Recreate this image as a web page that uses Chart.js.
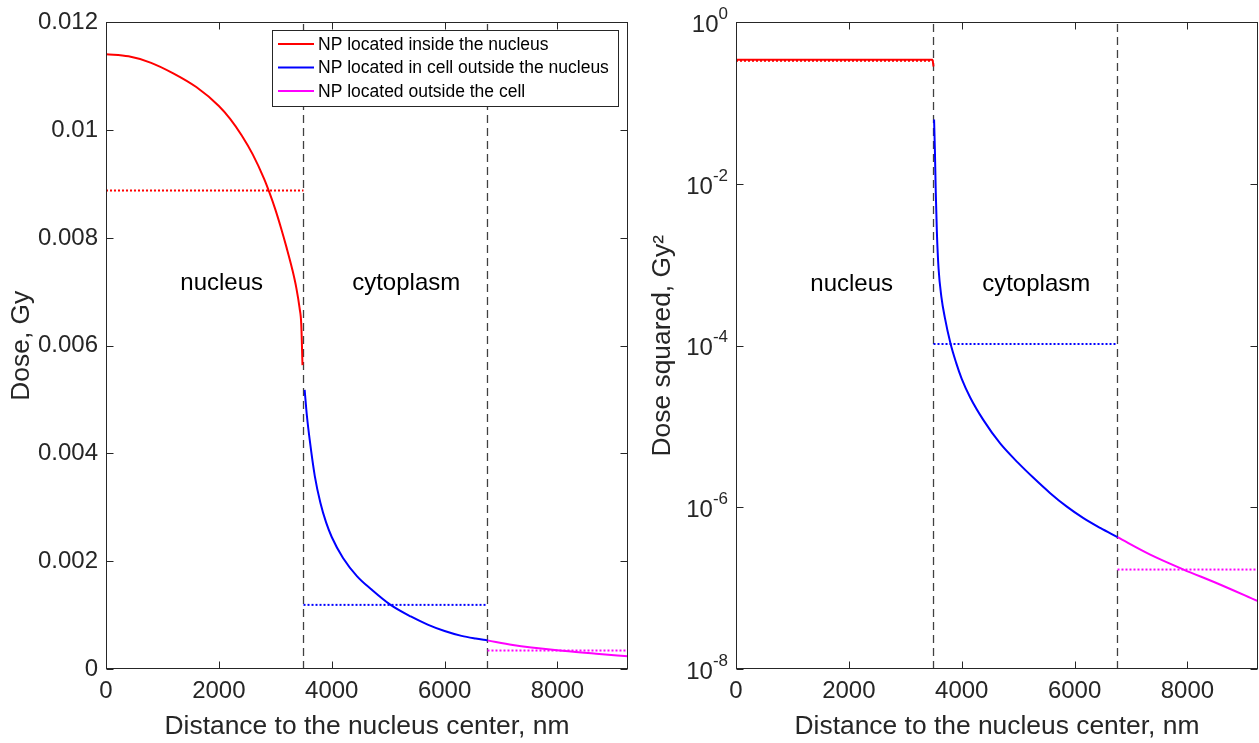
<!DOCTYPE html>
<html>
<head>
<meta charset="utf-8">
<script src="https://cdn.jsdelivr.net/npm/chart.js@4.4.1/dist/chart.umd.min.js"></script>
<style>
  html, body { margin: 0; padding: 0; background: #fff; }
  #doseChart { position: absolute; left: 0; top: 0; }
  #doseSqChart { position: absolute; left: 630px; top: 0; }
</style>
</head>
<body>
<canvas id="doseChart" width="630" height="743"></canvas>
<canvas id="doseSqChart" width="629" height="743"></canvas>
<script>
// 공통 값 (거리, nm)
const boundaries = [3500, 6760];
const xMax = 9250;
const xTicks = [0, 2000, 4000, 6000, 8000];
const seriesLabels = ['NP located inside the nucleus', 'NP located in cell outside the nucleus', 'NP located outside the cell'];
const seriesColors = ['#ff0000', '#0000ff', '#ff00ff'];
const regionNames = ['nucleus', 'cytoplasm'];
const regionX = [2050, 5320];

// 왼쪽 차트: 선량 (Gy)
const doseInsideX = [0, 400, 800, 1200, 1600, 2000, 2200, 2400, 2600, 2800, 2900, 3000, 3100, 3200, 3300, 3375, 3430, 3460, 3482];
const doseInsideY = [0.01141, 0.01137, 0.01125, 0.01105, 0.0108, 0.01045, 0.01021, 0.00991, 0.00955, 0.0091, 0.00883, 0.00853, 0.00819, 0.00782, 0.00742, 0.00706, 0.0067, 0.0064, 0.00564];
const doseCellX = [3520, 3560, 3610, 3700, 3800, 3900, 4000, 4200, 4450, 4700, 5030, 5400, 5700, 6000, 6300, 6550, 6760];
const doseCellY = [0.00518, 0.0047, 0.00425, 0.00358, 0.00308, 0.00272, 0.00245, 0.00206, 0.00172, 0.00148, 0.0012, 0.000975, 0.000825, 0.000705, 0.000615, 0.000565, 0.000531];
const doseOutX = [6760, 7209, 7995, 8685, 9250];
const doseOutY = [0.000531, 0.000444, 0.000346, 0.000284, 0.000235];
const doseMeans = [0.00888, 0.00119, 0.000343];
const doseTicks = [0, 0.002, 0.004, 0.006, 0.008, 0.01, 0.012];

// 오른쪽 차트: 선량 제곱 (Gy^2)
const sqInsideX = [0, 3480, 3500];
const sqInsideY = [0.346, 0.346, 0.285];
const sqCellX = [3510, 3525, 3540, 3560, 3590, 3640, 3700, 3800, 3900, 4000, 4150, 4385, 4681, 5000, 5271, 5563, 5863, 6150, 6454, 6760];
const sqCellY = [6.3e-2, 2.5e-2, 7.9e-3, 2.5e-3, 8.9e-4, 4.0e-4, 2.24e-4, 1.07e-4, 6.17e-5, 3.89e-5, 2.29e-5, 1.2e-5, 6.17e-6, 3.55e-6, 2.32e-6, 1.51e-6, 1.02e-6, 7.41e-7, 5.56e-7, 4.27e-7];
const sqOutX = [6760, 7340, 7931, 8523, 9250];
const sqOutY = [4.27e-7, 2.6e-7, 1.7e-7, 1.15e-7, 6.9e-8];
const sqMeans = [0.335, 1.05e-4, 1.7e-7];
const sqTicks = [1e-8, 1e-6, 1e-4, 1e-2, 1];

const FONT = '"Liberation Sans", Arial, sans-serif';
const TEXT = '#262626';
Chart.defaults.font.family = FONT;
Chart.defaults.color = TEXT;

function toPoints(xs, ys) {
    return xs.map((x, i) => ({ x: x, y: ys[i] }));
}

// 데이터셋 만들기: 곡선, 평균 점선, 경계 파선
function buildDatasets(curves, means, yMin, yMax) {
    const sets = [];
    curves.forEach((c, i) => {
        sets.push({
            label: seriesLabels[i],
            data: toPoints(c[0], c[1]),
            borderColor: seriesColors[i],
            borderWidth: 2,
            pointRadius: 0,
            cubicInterpolationMode: 'monotone'
        });
    });
    const edges = [0, boundaries[0], boundaries[1], xMax];
    means.forEach((m, i) => {
        sets.push({
            data: [{ x: edges[i], y: m }, { x: edges[i + 1], y: m }],
            borderColor: seriesColors[i],
            borderWidth: 2,
            borderDash: [2, 2],
            pointRadius: 0
        });
    });
    boundaries.forEach(b => {
        sets.push({
            data: [{ x: b, y: yMin }, { x: b, y: yMax }],
            borderColor: '#404040',
            borderWidth: 1.3,
            borderDash: [8, 5],
            pointRadius: 0
        });
    });
    return sets;
}

// 축 상자, 안쪽 눈금, 영역 이름, 범례
const framePlugin = {
    id: 'frame',
    beforeDatasetsDraw(chart, args, opts) {
        const ctx = chart.ctx;
        const xs = chart.scales.x, ys = chart.scales.y;
        ctx.save();
        ctx.font = '24px ' + FONT;
        ctx.fillStyle = '#000';
        ctx.textAlign = 'center';
        ctx.textBaseline = 'middle';
        regionNames.forEach((name, i) => {
            ctx.fillText(name, xs.getPixelForValue(regionX[i]), ys.getPixelForValue(opts.regionY));
        });
        ctx.restore();
    },
    afterDraw(chart, args, opts) {
        const ctx = chart.ctx;
        const ca = chart.chartArea;
        const xs = chart.scales.x, ys = chart.scales.y;
        const L = Math.round(ca.left) + 0.5, R = Math.round(ca.right) - 0.5;
        const T = Math.round(ca.top) + 0.5, B = Math.round(ca.bottom) - 0.5;
        ctx.save();
        ctx.strokeStyle = '#262626';
        ctx.lineWidth = 1;
        ctx.strokeRect(L, T, R - L, B - T);
        ctx.beginPath();
        xs.ticks.forEach(t => {
            const px = Math.round(xs.getPixelForValue(t.value)) + 0.5;
            ctx.moveTo(px, B); ctx.lineTo(px, B - 7);
            ctx.moveTo(px, T); ctx.lineTo(px, T + 7);
        });
        ys.ticks.forEach(t => {
            const py = Math.round(ys.getPixelForValue(t.value)) + 0.5;
            ctx.moveTo(L, py); ctx.lineTo(L + 7, py);
            ctx.moveTo(R, py); ctx.lineTo(R - 7, py);
        });
        ctx.stroke();

        // 로그 축 라벨 (10의 거듭제곱)
        if (opts.logLabels) {
            ys.ticks.forEach(t => {
                const py = ys.getPixelForValue(t.value);
                const exp = String(Math.round(Math.log10(t.value)));
                ctx.fillStyle = TEXT;
                ctx.textAlign = 'left';
                ctx.textBaseline = 'middle';
                ctx.font = '17px ' + FONT;
                const w2 = ctx.measureText(exp).width;
                ctx.font = '24px ' + FONT;
                const w1 = ctx.measureText('10').width;
                const xEnd = ca.left - 8;
                ctx.fillText('10', xEnd - w2 - w1, py + 3);
                ctx.font = '17px ' + FONT;
                ctx.fillText(exp, xEnd - w2, py - 8);
            });
        }

        // 범례
        if (opts.legend) {
            const bx = 272.5, by = 30.5, bw = 346, bh = 76;
            ctx.fillStyle = '#fff';
            ctx.fillRect(bx, by, bw, bh);
            ctx.strokeStyle = '#262626';
            ctx.strokeRect(bx, by, bw, bh);
            ctx.font = '17.5px ' + FONT;
            ctx.textAlign = 'left';
            ctx.textBaseline = 'middle';
            for (let i = 0; i < 3; i++) {
                const ds = chart.data.datasets[i];
                const ly = 44 + i * 23.5;
                ctx.strokeStyle = ds.borderColor;
                ctx.lineWidth = 2;
                ctx.beginPath();
                ctx.moveTo(278, ly); ctx.lineTo(314, ly);
                ctx.stroke();
                ctx.fillStyle = '#000';
                ctx.fillText(ds.label, 318, ly + 1);
            }
        }
        ctx.restore();
    }
};

function xScale() {
    return {
        type: 'linear',
        min: 0,
        max: xMax,
        afterBuildTicks: s => { s.ticks = xTicks.map(v => ({ value: v })); },
        afterFit: s => { s.height = 74; },
        grid: { display: false, drawTicks: false },
        border: { display: false },
        ticks: { font: { size: 24 }, color: TEXT, padding: 8, maxRotation: 0, autoSkip: false, callback: v => String(v) },
        title: { display: true, text: 'Distance to the nucleus center, nm', font: { size: 26.4 }, color: TEXT, padding: { top: 7, bottom: 0 } }
    };
}

// 왼쪽 차트
new Chart(document.getElementById('doseChart'), {
    type: 'line',
    data: {
        datasets: buildDatasets(
            [[doseInsideX, doseInsideY], [doseCellX, doseCellY], [doseOutX, doseOutY]],
            doseMeans, 0, 0.012)
    },
    options: {
        responsive: false,
        animation: false,
        layout: { padding: { top: 19, right: 2, bottom: 0, left: 0 } },
        plugins: {
            legend: { display: false },
            tooltip: { enabled: false },
            frame: { legend: true, logLabels: false, regionY: 0.00715 }
        },
        scales: {
            x: xScale(),
            y: {
                type: 'linear',
                min: 0,
                max: 0.012,
                afterBuildTicks: s => { s.ticks = doseTicks.map(v => ({ value: v })); },
                afterFit: s => { s.width = 106; },
                grid: { display: false, drawTicks: false },
                border: { display: false },
                ticks: { font: { size: 24 }, color: TEXT, padding: 8, callback: v => String(parseFloat(v.toFixed(4))) },
                title: { display: true, text: 'Dose, Gy', font: { size: 26.4 }, color: TEXT, padding: { top: 6, bottom: 0 } }
            }
        }
    },
    plugins: [framePlugin]
});

// 오른쪽 차트 (로그 축)
new Chart(document.getElementById('doseSqChart'), {
    type: 'line',
    data: {
        datasets: buildDatasets(
            [[sqInsideX, sqInsideY], [sqCellX, sqCellY], [sqOutX, sqOutY]],
            sqMeans, 1e-8, 1)
    },
    options: {
        responsive: false,
        animation: false,
        layout: { padding: { top: 19, right: 1, bottom: 0, left: 0 } },
        plugins: {
            legend: { display: false },
            tooltip: { enabled: false },
            frame: { legend: false, logLabels: true, regionY: 5.8e-4 }
        },
        scales: {
            x: xScale(),
            y: {
                type: 'logarithmic',
                min: 1e-8,
                max: 1,
                afterBuildTicks: s => { s.ticks = sqTicks.map(v => ({ value: v })); },
                afterFit: s => { s.width = 106; },
                grid: { display: false, drawTicks: false },
                border: { display: false },
                ticks: { font: { size: 24 }, padding: 8, callback: () => '' },
                title: { display: true, text: 'Dose squared, Gy²', font: { size: 26.4 }, color: TEXT, padding: { top: 17, bottom: 0 } }
            }
        }
    },
    plugins: [framePlugin]
});
</script>
</body>
</html>
